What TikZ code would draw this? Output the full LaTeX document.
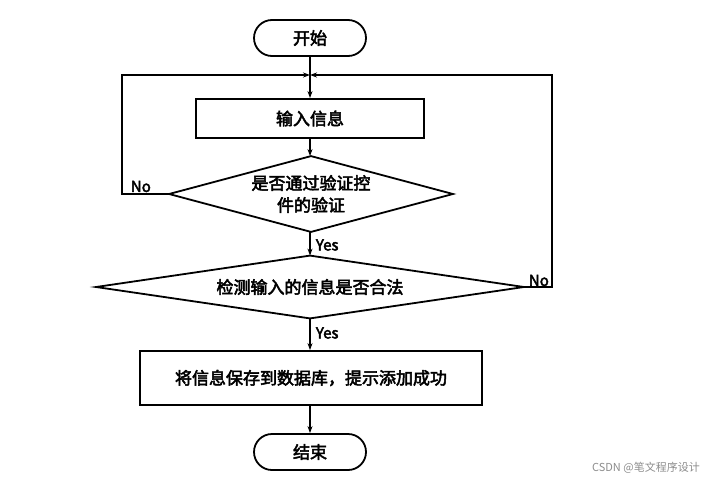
\documentclass[tikz,border=0pt]{standalone}
\usepackage{fontspec}
\setmainfont{Noto Sans CJK SC}
\newfontfamily\hb{Noto Sans CJK SC}[FakeBold=3]
\usetikzlibrary{arrows.meta}
\begin{document}
\begin{tikzpicture}[x=1pt,y=-1pt,
  line width=1.8pt,
  >={Stealth[length=7pt,width=5pt]},
  term/.style={draw,rounded corners=18pt,minimum width=112pt,minimum height=36pt,inner sep=0pt,font=\hb\fontsize{17}{20}\selectfont},
  procbox/.style={draw,minimum height=#1,inner sep=0pt,font=\hb\fontsize{17}{20}\selectfont},
  decide/.style={inner sep=0pt,font=\hb\fontsize{17}{22}\selectfont,align=center},
  lbl/.style={font=\hb\fontsize{15}{16}\selectfont,inner sep=1pt}]
\useasboundingbox (0,0) rectangle (711,490);
\node[term] (start) at (310,38) {开始};
\coordinate (join) at (310,75);
\node[procbox=39pt,minimum width=228pt] (input) at (310,118.5) {输入信息};
\node[decide,minimum width=282pt,minimum height=74pt] (d1) at (311,194) {是否通过验证控\\件的验证};
\draw (d1.north) -- (d1.east) -- (d1.south) -- (d1.west) -- cycle;
\node[decide,minimum width=426pt,minimum height=61pt] (d2) at (310,287) {检测输入的信息是否合法};
\draw (d2.north) -- (d2.east) -- (d2.south) -- (d2.west) -- cycle;
\node[procbox=54pt,minimum width=342pt] (save) at (311,378) {将信息保存到数据库，提示添加成功};
\node[term] (end) at (310,452) {结束};
\coordinate (lc) at (122,75);
\coordinate (rc) at (552,75);
\draw[->] (start) -- (input.north -| start);
\draw[->] (input.south -| start) -- (start |- d1.north);
\draw[->] (start |- d1.south) -- (start |- d2.north);
\draw[->] (start |- d2.south) -- (start |- save.north);
\draw[->] (start |- save.south) -- (end);
\draw[->] (d1.west) -| (lc) -- (join);
\draw[->] (d2.east) -| (rc) -- (join);
\node[lbl,anchor=south west] (no1) at (129,194) {No};
\node[lbl,anchor=south west] (no2) at (527,288) {No};
\node[lbl,anchor=west] (yes1) at (314,245) {Yes};
\node[lbl,anchor=west] (yes2) at (314,333) {Yes};
\node[font=\fontsize{11}{13}\selectfont,text=black!45,anchor=east] (wm) at (704,468) {CSDN @笔文程序设计};
\end{tikzpicture}
\end{document}
